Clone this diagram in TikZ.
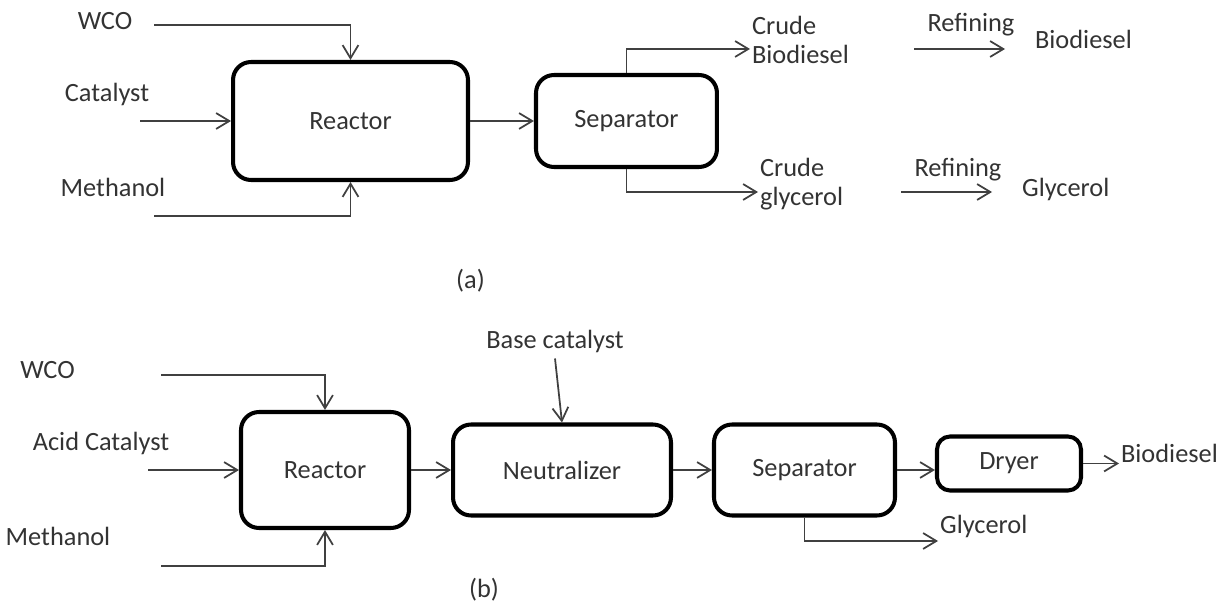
\documentclass[tikz,border=0pt]{standalone}
\usepackage{fontspec}
\setmainfont{Carlito}
\usetikzlibrary{arrows.meta,positioning}

\begin{document}
\begin{tikzpicture}[
  x=0.02cm, y=-0.02cm,
  font=\fontsize{15}{16.5}\selectfont,
  every node/.style={text=black!80},
  box/.style={
    draw=black,
    line width=2.3pt,
    rounded corners=0.36cm,
    align=center,
    minimum width=3.6cm,
    minimum height=1.8cm,
    inner sep=5pt
  },
  lbl/.style={inner sep=1pt, text height=1.6ex, text depth=0.4ex},
  twoline/.style={align=left, anchor=west, inner sep=1pt},
  arrow/.style={-{Straight Barb[length=7.5pt,width=9pt]}, line width=1pt, draw=black!75}
]
\useasboundingbox (0,0) rectangle (1220,604);

% (a)
\node[box, minimum width=4.7cm, minimum height=2.36cm] (reactorA) at (350.5,121) {Reactor};
\node[box, right=1.28cm of reactorA, minimum width=3.62cm, minimum height=1.84cm] (sepA) {Separator};

\node[lbl] (wcoAl) at (105,24) {WCO};
\node[lbl] (catAl) at (107,96) {Catalyst};
\node[lbl] (methAl) at (113,191) {Methanol};
\coordinate (wcoA) at (154,25);
\coordinate[left=1.82cm of reactorA] (catA);
\coordinate (methA) at (154,216);

\node[twoline] (crudeBio) at (750,40) {Crude\\Biodiesel};
\node[twoline] (crudeGly) at (758,184) {Crude\\glycerol};
\node[lbl, anchor=west] (bioA) at (1033,43) {Biodiesel};
\node[lbl, anchor=west] (glyA) at (1020,191) {Glycerol};
\coordinate (refA1) at (914,49);
\coordinate (refA2) at (1005,49);
\coordinate (refB1) at (901,192);
\coordinate (refB2) at (992,192);

\draw[arrow] (wcoA) -| (reactorA.north);
\draw[arrow] (catA) -- (reactorA);
\draw[arrow] (methA) -| (reactorA.south);
\draw[arrow] (reactorA) -- (sepA);
\draw[arrow] (sepA.north) |- ([yshift=-0.18cm]crudeBio.west);
\draw[arrow] (sepA.south) |- ([yshift=-0.16cm]crudeGly.west);
\draw[arrow] (refA1) -- node[lbl, above=0.24cm, xshift=0.23cm] (refAl) {Refining} (refA2);
\draw[arrow] (refB1) -- node[lbl, above=0.2cm, xshift=0.23cm] (refBl) {Refining} (refB2);

\node[lbl] (capA) at (470.5,283) {(a)};

% (b)
\node[box, minimum width=3.36cm, minimum height=2.32cm] (reactorB) at (325,470) {Reactor};
\node[box, right=0.8cm of reactorB, minimum width=4.36cm, minimum height=1.82cm] (neut) {Neutralizer};
\node[box, right=0.78cm of neut, minimum width=3.62cm, minimum height=1.82cm] (sepB) {Separator};
\node[box, right=0.76cm of sepB, yshift=0.13cm, minimum width=2.88cm, minimum height=1.08cm, rounded corners=0.26cm] (dryer) {Dryer};

\node[lbl] (wcoBl) at (47.5,373) {WCO};
\node[lbl] (acidBl) at (101,445) {Acid Catalyst};
\node[lbl] (methBl) at (58,540) {Methanol};
\node[lbl] (baseBl) at (555,343) {Base catalyst};
\coordinate (wcoB) at (161,375);
\coordinate[left=1.82cm of reactorB] (acidB);
\coordinate (methB) at (161,566);

\node[lbl, anchor=west] (bioB) at (1119,457) {Biodiesel};
\node[lbl, anchor=west] (glyB) at (938,528) {Glycerol};

\draw[arrow] (wcoB) -| (reactorB.north);
\draw[arrow] (acidB) -- (reactorB);
\draw[arrow] (methB) -| (reactorB.south);
\draw[arrow] ([yshift=-0.1cm]baseBl.south) -- (neut.north);
\draw[arrow] (reactorB) -- (neut);
\draw[arrow] (neut) -- (sepB);
\draw[arrow] (sepB.east) -- (sepB.east -| dryer.west);
\draw[arrow] (dryer.east) -- (dryer.east -| bioB.west);
\draw[arrow] (sepB.south) |- ([yshift=-0.26cm]glyB.west);

\node[lbl] (capB) at (484,592) {(b)};

\end{tikzpicture}
\end{document}
